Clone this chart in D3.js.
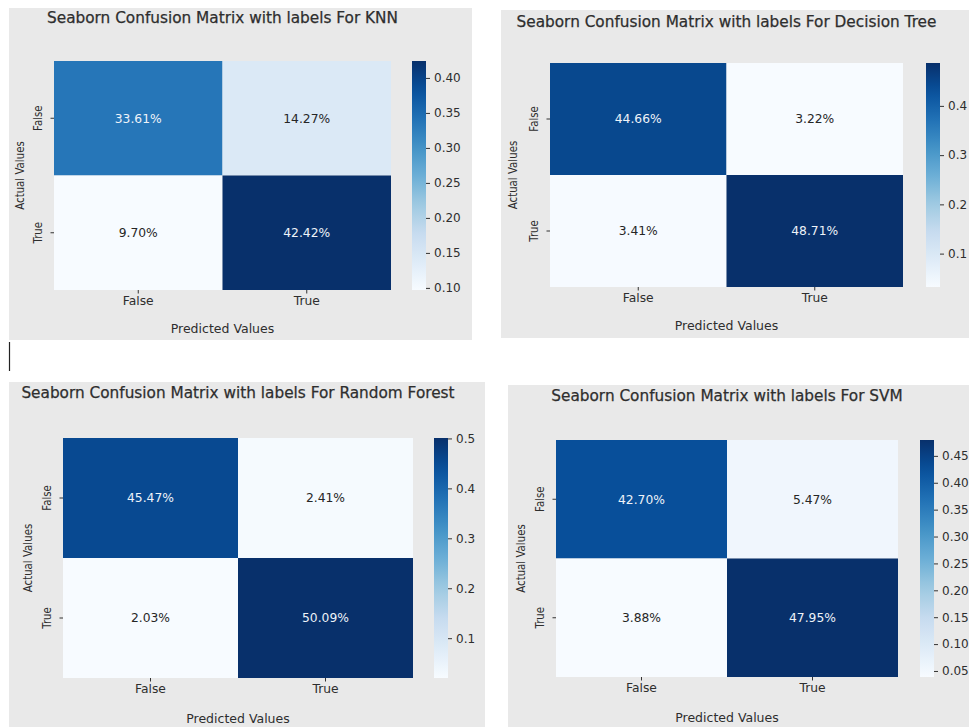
<!DOCTYPE html>
<html>
<head>
<meta charset="utf-8">
<script src="https://cdn.jsdelivr.net/npm/d3@7"></script>
<style>
  body { margin: 0; background: #fff; }
  text { font-family: "DejaVu Sans", sans-serif; fill: #2e2e2e; }
</style>
</head>
<body>
<svg id="chart" width="969" height="727"></svg>
<script>
// data
const classes = ['False', 'True'];
const models = ['KNN', 'Decision Tree', 'Random Forest', 'SVM'];

const knnValues = [[0.3361, 0.1427], [0.0970, 0.4242]];
const treeValues = [[0.4466, 0.0322], [0.0341, 0.4871]];
const forestValues = [[0.4547, 0.0241], [0.0203, 0.5009]];
const svmValues = [[0.4270, 0.0547], [0.0388, 0.4795]];

const knnTicks = [0.10, 0.15, 0.20, 0.25, 0.30, 0.35, 0.40];
const treeTicks = [0.1, 0.2, 0.3, 0.4];
const forestTicks = [0.1, 0.2, 0.3, 0.4, 0.5];
const svmTicks = [0.05, 0.10, 0.15, 0.20, 0.25, 0.30, 0.35, 0.40, 0.45];

// matplotlib "Blues" stops
const blues = ['#f7fbff', '#deebf7', '#c6dbef', '#9ecae1', '#6baed6', '#4292c6', '#2171b5', '#08519c', '#08306b'];

// where each panel sits on the page
const panels = [
  { values: knnValues, ticks: knnTicks, fmt: '.2f', bg: [9, 8, 463, 332], heat: [54, 61, 337, 229], cbarX: 412, titleGap: 43, xlabGap: 39, ylabGap: 34 },
  { values: treeValues, ticks: treeTicks, fmt: '.1f', bg: [501, 10, 470, 328], heat: [550, 63, 353, 224], cbarX: 926, titleGap: 41, xlabGap: 39, ylabGap: 37 },
  { values: forestValues, ticks: forestTicks, fmt: '.1f', bg: [9, 382, 476, 347], heat: [63, 438, 350, 240], cbarX: 434, titleGap: 45, xlabGap: 41, ylabGap: 35 },
  { values: svmValues, ticks: svmTicks, fmt: '.2f', bg: [508, 385, 463, 344], heat: [556, 440, 342, 237], cbarX: 920, titleGap: 44, xlabGap: 41, ylabGap: 35 },
];

const svg = d3.select('#chart');
const defs = svg.append('defs');

function luminance(c) {
  const rgb = d3.rgb(c);
  const lin = v => { v /= 255; return v <= 0.03928 ? v / 12.92 : Math.pow((v + 0.055) / 1.055, 2.4); };
  return 0.2126 * lin(rgb.r) + 0.7152 * lin(rgb.g) + 0.0722 * lin(rgb.b);
}

panels.forEach((p, i) => {
  const [hx, hy, hw, hh] = p.heat;
  const flat = p.values.flat();
  const vmin = d3.min(flat), vmax = d3.max(flat);

  const color = d3.scaleLinear()
    .domain(blues.map((_, k) => vmin + k * (vmax - vmin) / (blues.length - 1)))
    .range(blues)
    .interpolate(d3.interpolateRgb)
    .clamp(true);

  const g = svg.append('g');

  // grey figure background
  g.append('rect')
    .attr('x', p.bg[0]).attr('y', p.bg[1])
    .attr('width', p.bg[2]).attr('height', p.bg[3])
    .attr('fill', '#e9e9e9');

  const x = d3.scaleBand().domain(classes).range([hx, hx + hw]);
  const y = d3.scaleBand().domain(classes).range([hy, hy + hh]);

  const cells = classes.flatMap((actual, r) => classes.map((pred, c) => ({ actual, pred, v: p.values[r][c] })));

  g.selectAll('rect.cell')
    .data(cells)
    .join('rect')
    .attr('class', 'cell')
    .attr('x', d => x(d.pred))
    .attr('y', d => y(d.actual))
    .attr('width', x.bandwidth())
    .attr('height', y.bandwidth())
    .attr('fill', d => color(d.v));

  g.selectAll('text.annot')
    .data(cells)
    .join('text')
    .attr('class', 'annot')
    .attr('x', d => x(d.pred) + x.bandwidth() / 2)
    .attr('y', d => y(d.actual) + y.bandwidth() / 2)
    .attr('dy', '0.35em')
    .attr('text-anchor', 'middle')
    .style('font-size', '12.3px')
    .style('fill', d => luminance(color(d.v)) > 0.408 ? '#262626' : '#eef3f9')
    .text(d => d3.format('.2%')(d.v));

  // x axis
  const xAxis = g.append('g')
    .attr('transform', `translate(0,${hy + hh})`)
    .call(d3.axisBottom(x).tickSize(3.5).tickPadding(3));
  xAxis.select('.domain').remove();
  xAxis.selectAll('line').attr('stroke', '#333');
  xAxis.selectAll('text').style('font-size', '12.3px').attr('fill', '#2e2e2e');

  // y axis, labels turned on their side
  const yAxis = g.append('g')
    .attr('transform', `translate(${hx},0)`)
    .call(d3.axisLeft(y).tickSize(3.5));
  yAxis.select('.domain').remove();
  yAxis.selectAll('line').attr('stroke', '#333');
  yAxis.selectAll('text')
    .attr('x', 0).attr('dy', '0.35em')
    .attr('text-anchor', 'middle')
    .attr('transform', 'translate(-16,0) rotate(-90) scale(0.85,1)')
    .style('font-size', '12px')
    .attr('fill', '#2e2e2e');

  // title and axis labels
  g.append('text')
    .attr('x', hx + hw / 2).attr('y', hy - p.titleGap)
    .attr('dy', '0.35em')
    .attr('text-anchor', 'middle')
    .style('font-size', '15.3px')
    .style('stroke', '#2e2e2e').style('stroke-width', 0.25)
    .text(`Seaborn Confusion Matrix with labels For ${models[i]}`);

  g.append('text')
    .attr('x', hx + hw / 2).attr('y', hy + hh + p.xlabGap)
    .attr('dy', '0.35em')
    .attr('text-anchor', 'middle')
    .style('font-size', '12.5px')
    .text('Predicted Values');

  g.append('text')
    .attr('transform', `translate(${hx - p.ylabGap},${hy + hh / 2}) rotate(-90) scale(0.85,1)`)
    .attr('dy', '0.35em')
    .attr('text-anchor', 'middle')
    .style('font-size', '12px')
    .text('Actual Values');

  // colour bar
  const gradId = `cbar-${i}`;
  const grad = defs.append('linearGradient')
    .attr('id', gradId)
    .attr('x1', 0).attr('y1', 1).attr('x2', 0).attr('y2', 0);
  d3.range(0, 1.0001, 0.05).forEach(t => {
    grad.append('stop').attr('offset', t).attr('stop-color', color(vmin + t * (vmax - vmin)));
  });

  const cbarW = 14;
  g.append('rect')
    .attr('x', p.cbarX).attr('y', hy)
    .attr('width', cbarW).attr('height', hh)
    .attr('fill', `url(#${gradId})`);

  const cy = d3.scaleLinear().domain([vmin, vmax]).range([hy + hh, hy]);
  const cAxis = g.append('g')
    .attr('transform', `translate(${p.cbarX + cbarW},0)`)
    .call(d3.axisRight(cy).tickValues(p.ticks).tickFormat(d3.format(p.fmt)).tickSize(4).tickPadding(4));
  cAxis.select('.domain').remove();
  cAxis.selectAll('line').attr('stroke', '#333');
  cAxis.selectAll('text').style('font-size', '12px').attr('fill', '#2e2e2e');
});

// stray text cursor between the panels
svg.append('line')
  .attr('x1', 9.5).attr('x2', 9.5)
  .attr('y1', 342).attr('y2', 371)
  .attr('stroke', '#222').attr('stroke-width', 1.2);
</script>
</body>
</html>
